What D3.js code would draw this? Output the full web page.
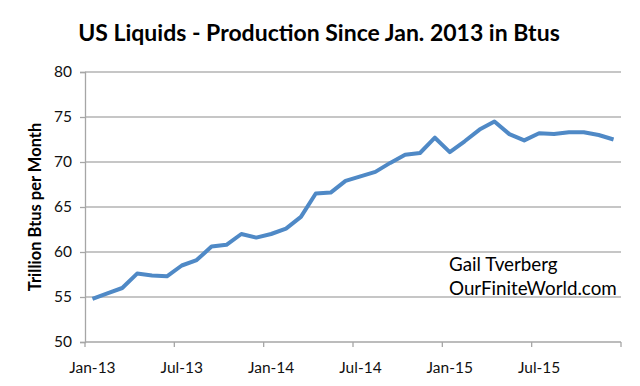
<!DOCTYPE html>
<html lang="en">
  <head>
    <meta charset="UTF-8" />
    <title>US Liquids</title>
    <script src="https://d3js.org/d3.v7.min.js"></script>
    <style>
      body { margin: 0; background: #fff; }
      text { font-family: Lato, "Open Sans", sans-serif; }
    </style>
  </head>
  <body>
    <svg width="640" height="386"></svg>
    <script>
      // data
      var years = ["13", "14", "15"];
      var monthNames = ["Jan","Feb","Mar","Apr","May","Jun","Jul","Aug","Sep","Oct","Nov","Dec"];
      var months = [];
      years.forEach(y => monthNames.forEach(m => months.push(m + "-" + y)));
      var tickLabels = ["Jan-13", "Jul-13", "Jan-14", "Jul-14", "Jan-15", "Jul-15"];
      var values = [
        54.8, 55.4, 56.0, 57.6, 57.4, 57.3, 58.5, 59.1, 60.6, 60.8, 62.0, 61.6,
        62.0, 62.6, 63.9, 66.5, 66.6, 67.9, 68.4, 68.9, 69.9, 70.8, 71.0, 72.7,
        71.1, 72.3, 73.6, 74.5, 73.1, 72.4, 73.2, 73.1, 73.3, 73.3, 73.0, 72.5
      ];
      var yTicks = [50, 55, 60, 65, 70, 75, 80];

      var margin = { top: 72, right: 19, bottom: 44, left: 85 };
      var width = 640 - margin.left - margin.right;
      var height = 386 - margin.top - margin.bottom;

      var svg = d3.select("svg");
      var g = svg.append("g")
        .attr("transform", `translate(${margin.left},${margin.top})`);

      var x = d3.scaleBand().domain(months).range([0, width]);
      var y = d3.scaleLinear().domain([50, 80]).range([height, 0]);

      // grid lines
      g.selectAll(".grid")
        .data(yTicks.slice(1))
        .enter()
        .append("line")
        .attr("x1", 0)
        .attr("x2", width)
        .attr("y1", d => y(d))
        .attr("y2", d => y(d))
        .attr("stroke", "#b3b3b3")
        .attr("stroke-width", 1.3);

      // y axis
      var yAxis = d3.axisLeft(y).tickValues(yTicks).tickSize(5).tickPadding(8);
      var ya = g.append("g").call(yAxis);
      ya.select(".domain").attr("stroke", "#a6a6a6").attr("stroke-width", 1.3);
      ya.selectAll(".tick line").attr("stroke", "#a6a6a6").attr("stroke-width", 1.3);
      ya.selectAll(".tick text")
        .attr("font-size", 15.5)
        .attr("fill", "#111")
        .style("font-family", "Lato, 'Open Sans', sans-serif");

      // x axis: ticks at category boundaries every 6 months, labels at category centres
      var xa = g.append("g").attr("transform", `translate(0,${height})`);
      xa.append("line")
        .attr("x1", 0).attr("x2", width)
        .attr("stroke", "#a6a6a6").attr("stroke-width", 1.3);
      var boundaries = d3.range(0, months.length + 1, 6);
      xa.selectAll(".xtick")
        .data(boundaries)
        .enter()
        .append("line")
        .attr("x1", d => d === months.length ? width : x(months[d]))
        .attr("x2", d => d === months.length ? width : x(months[d]))
        .attr("y1", 0)
        .attr("y2", 5)
        .attr("stroke", "#a6a6a6")
        .attr("stroke-width", 1.3);
      xa.selectAll(".xlabel")
        .data(tickLabels)
        .enter()
        .append("text")
        .attr("x", d => x(d) + x.bandwidth() / 2)
        .attr("y", 31)
        .attr("text-anchor", "middle")
        .attr("font-size", 15.5)
        .attr("fill", "#111")
        .text(d => d);

      // line
      var line = d3.line()
        .x((d, i) => x(months[i]) + x.bandwidth() / 2)
        .y(d => y(d));
      g.append("path")
        .datum(values)
        .attr("d", line)
        .attr("fill", "none")
        .attr("stroke", "#4f89c6")
        .attr("stroke-width", 4)
        .attr("stroke-linejoin", "round");

      // title
      svg.append("text")
        .attr("x", 319)
        .attr("y", 41)
        .attr("text-anchor", "middle")
        .attr("font-size", 23)
        .attr("font-weight", "bold")
        .attr("fill", "#000")
        .text("US Liquids - Production Since Jan. 2013 in Btus");

      // y axis title
      svg.append("text")
        .attr("transform", "translate(41,207) rotate(-90)")
        .attr("text-anchor", "middle")
        .attr("font-size", 16.5)
        .attr("font-weight", "bold")
        .attr("fill", "#000")
        .text("Trillion Btus per Month");

      // credit
      var credit = svg.append("text")
        .attr("font-size", 18.8)
        .attr("fill", "#000");
      credit.append("tspan").attr("x", 449).attr("y", 271).text("Gail Tverberg");
      credit.append("tspan").attr("x", 449).attr("y", 295).text("OurFiniteWorld.com");
    </script>
  </body>
</html>
